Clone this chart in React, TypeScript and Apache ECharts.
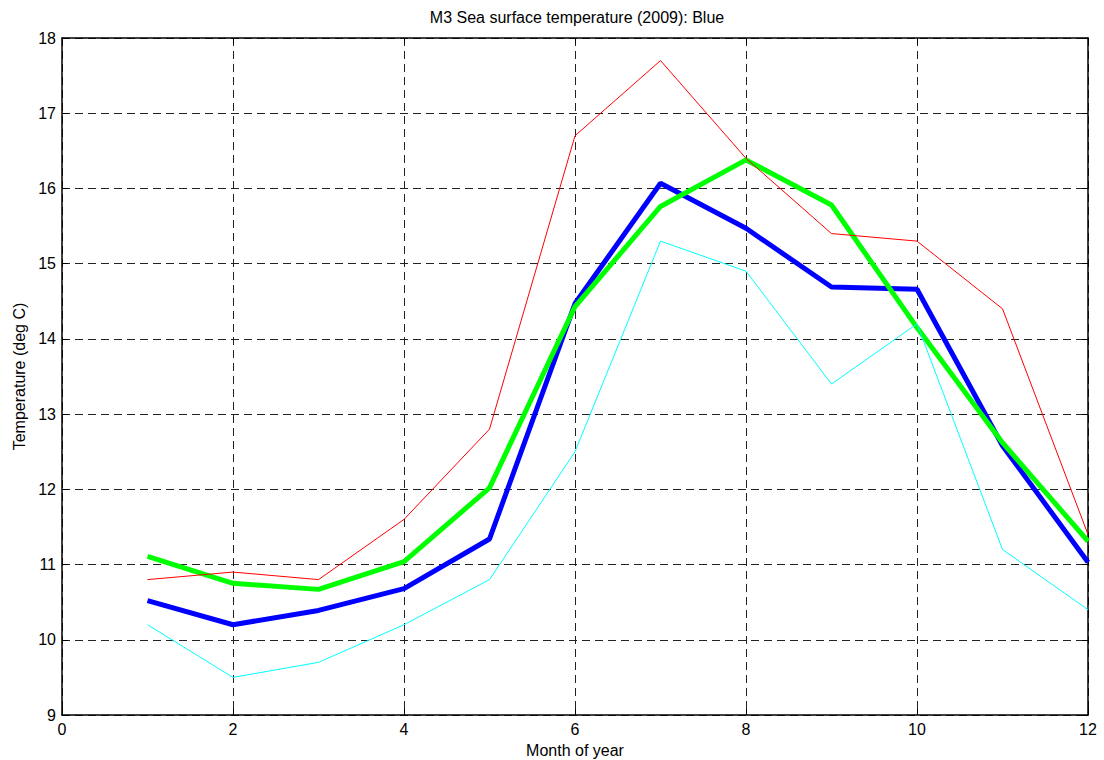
import React, { useEffect, useRef } from "react";
import * as echarts from "echarts";

const months = [1, 2, 3, 4, 5, 6, 7, 8, 9, 10, 11, 12];
const blue2009 = [10.52, 10.2, 10.39, 10.68, 11.34, 14.47, 16.07, 15.47, 14.69, 14.66, 12.58, 11.03];
const greenMean = [11.11, 10.75, 10.67, 11.04, 12.02, 14.43, 15.76, 16.38, 15.78, 14.15, 12.62, 11.31];
const redMax = [10.8, 10.9, 10.8, 11.6, 12.8, 16.7, 17.7, 16.4, 15.4, 15.3, 14.4, 11.4];
const cyanMin = [10.2, 9.5, 9.7, 10.2, 10.8, 12.5, 15.3, 14.9, 13.4, 14.2, 11.2, 10.4];

const titleText = "M3 Sea surface temperature (2009): Blue";
const xLabel = "Month of year";
const yLabel = "Temperature (deg C)";

const pairs = (vals: number[]) => months.map((m, i) => [m, vals[i]]);

export default function App() {
  const ref = useRef<HTMLDivElement>(null);
  useEffect(() => {
    document.body.style.margin = "0";
    const chart = echarts.init(ref.current!, null, { renderer: "svg" });
    const font = "Liberation Sans, Arial, sans-serif";
    const fs = 16;
    const gridLine = { show: true, lineStyle: { color: "#222", type: [8, 5] as any, width: 1 } };
    const axisLine = { show: true, onZero: false, lineStyle: { color: "#000", width: 1.5 } };
    const tick = { show: true, inside: true, length: 6, lineStyle: { color: "#000" } };
    chart.setOption({
      animation: false,
      backgroundColor: "#fff",
      title: {
        text: titleText,
        left: 572,
        top: 4,
        textAlign: "center",
        textStyle: { fontFamily: font, fontSize: fs, fontWeight: "normal", color: "#000" },
      },
      grid: { left: 62, right: 16, top: 38, bottom: 45, outerBoundsMode: "none", containLabel: false },
      xAxis: [
        {
          type: "value",
          min: 0,
          max: 12,
          interval: 2,
          name: xLabel,
          nameLocation: "middle",
          nameGap: 27,
          nameTextStyle: { fontFamily: font, fontSize: fs, color: "#000" },
          axisLine,
          axisTick: tick,
          axisLabel: { fontFamily: font, fontSize: fs, color: "#000", margin: 6 },
          splitLine: gridLine,
        },
        {
          type: "value",
          min: 0,
          max: 12,
          interval: 2,
          position: "top",
          axisLine,
          axisTick: tick,
          axisLabel: { show: false },
          splitLine: { show: false },
        },
      ],
      yAxis: [
        {
          type: "value",
          min: 9,
          max: 18,
          interval: 1,
          name: yLabel,
          nameLocation: "middle",
          nameGap: 35,
          nameTextStyle: { fontFamily: font, fontSize: fs, color: "#000" },
          axisLine,
          axisTick: tick,
          axisLabel: { fontFamily: font, fontSize: fs, color: "#000", margin: 6 },
          splitLine: gridLine,
        },
        {
          type: "value",
          min: 9,
          max: 18,
          interval: 1,
          position: "right",
          axisLine,
          axisTick: tick,
          axisLabel: { show: false },
          splitLine: { show: false },
        },
      ],
      series: [
        {
          type: "line",
          data: pairs(blue2009),
          showSymbol: false,
          lineStyle: { color: "#0000ff", width: 5 },
          itemStyle: { color: "#0000ff" },
        },
        {
          type: "line",
          data: pairs(greenMean),
          showSymbol: false,
          lineStyle: { color: "#00ff00", width: 5 },
          itemStyle: { color: "#00ff00" },
        },
        {
          type: "line",
          data: pairs(redMax),
          showSymbol: false,
          lineStyle: { color: "#ff0000", width: 1 },
          itemStyle: { color: "#ff0000" },
        },
        {
          type: "line",
          data: pairs(cyanMin),
          showSymbol: false,
          lineStyle: { color: "#00ffff", width: 1 },
          itemStyle: { color: "#00ffff" },
        },
      ],
    });
    return () => chart.dispose();
  }, []);
  return <div ref={ref} style={{ width: 1104, height: 760 }} />;
}
